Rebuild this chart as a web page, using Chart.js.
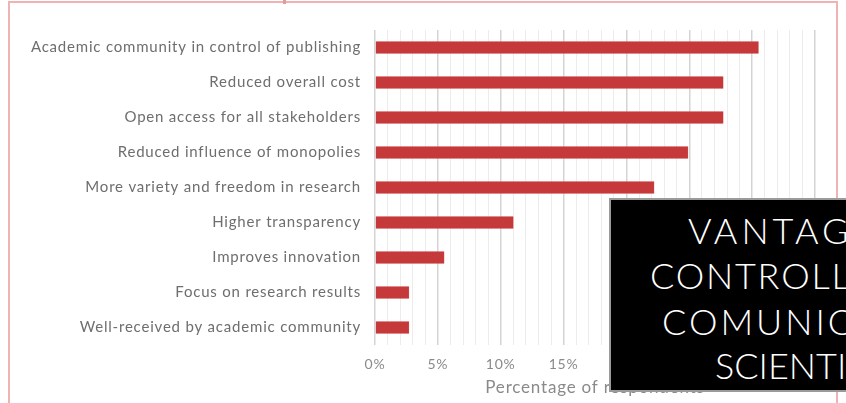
<!DOCTYPE html>
<html>
<head>
<meta charset="utf-8">
<script src="https://cdn.jsdelivr.net/npm/chart.js@4"></script>
<style>
  html, body { margin: 0; padding: 0; background: #fff; overflow: hidden; }
  #wrap { position: relative; width: 846px; height: 403px; overflow: hidden; }
  #frame {
    position: absolute; left: 8px; top: 1px; width: 830px; height: 420px;
    border: 2px solid #efb3b3; box-sizing: border-box;
  }
  #notch { position: absolute; left: 283px; top: 0; width: 3px; height: 4px; background: #e59a9a; }
  #chart { position: absolute; left: 0; top: 0; }
  #banner {
    position: absolute; left: 609px; top: 198px; width: 260px; height: 194px;
    background: #000; border: 2px solid #9a9a9a; box-sizing: border-box;
  }
  .bl {
    position: absolute; color: #fff; font-family: Lato, "Open Sans", sans-serif; font-weight: 300;
    font-size: 36px; line-height: 36px; white-space: nowrap; letter-spacing: 1.5px;
  }
</style>
</head>
<body>
<div id="wrap">
  <canvas id="chart" width="846" height="403"></canvas>
  <div id="frame"></div>
  <div id="notch"></div>
  <div id="banner">
    <div class="bl" style="left:77px; top:12px; letter-spacing:4px;">VANTAG</div>
    <div class="bl" style="left:39px; top:57px; letter-spacing:1.8px;">CONTROLL</div>
    <div class="bl" style="left:51px; top:103px; letter-spacing:3px;">COMUNIC</div>
    <div class="bl" style="left:104px; top:147px; letter-spacing:0;">SCIENTI</div>
  </div>
</div>
<script>
  const categories = [
    "Academic community in control of publishing",
    "Reduced overall cost",
    "Open access for all stakeholders",
    "Reduced influence of monopolies",
    "More variety and freedom in research",
    "Higher transparency",
    "Improves innovation",
    "Focus on research results",
    "Well-received by academic community",
  ];
  const respondentPct = [30.5, 27.7, 27.7, 24.9, 22.2, 11.0, 5.5, 2.7, 2.7];
  const axisMax = 35;
  const axisTitle = "Percentage of respondents";

  const labelFont = "Lato, 'Open Sans', sans-serif";

  // wider text, closer to the original's geometric face
  const spacing = {
    id: "spacing",
    beforeDraw(chart) { chart.ctx.letterSpacing = "0.8px"; },
  };

  new Chart(document.getElementById("chart"), {
    type: "bar",
    data: {
      labels: categories,
      datasets: [{
        label: axisTitle,
        data: respondentPct,
        backgroundColor: "#c5393b",
        borderColor: "#d25a5b",
        borderWidth: 0.5,
        barThickness: 12,
      }],
    },
    options: {
      indexAxis: "y",
      responsive: false,
      animation: false,
      layout: { padding: { top: 30, left: 10, right: 31, bottom: 0 } },
      plugins: { legend: { display: false }, tooltip: { enabled: false } },
      scales: {
        y: {
          afterFit(scale) { scale.width = 365; },
          grid: { display: false, drawTicks: false },
          border: { display: false },
          ticks: { color: "#6e6e6e", padding: 14, font: { family: labelFont, size: 15 } },
        },
        x: {
          min: 0,
          max: axisMax,
          afterFit(scale) { scale.height = 58; },
          border: { display: false },
          grid: {
            drawTicks: false,
            color: c => (c.tick && c.tick.value % 5 === 0 ? "#d4d4d4" : "#ececec"),
            lineWidth: c => (c.tick && c.tick.value % 5 === 0 ? 1.5 : 1),
          },
          ticks: {
            stepSize: 1,
            autoSkip: false,
            maxRotation: 0,
            padding: 11,
            color: "#8a8a8a",
            font: { family: labelFont, size: 14 },
            callback: v => (v % 5 === 0 ? v + "%" : ""),
          },
          title: {
            display: true,
            text: axisTitle,
            color: "#8a8a8a",
            font: { family: labelFont, size: 17 },
            padding: { top: 0, bottom: 5 },
          },
        },
      },
    },
    plugins: [spacing],
  });
</script>
</body>
</html>
